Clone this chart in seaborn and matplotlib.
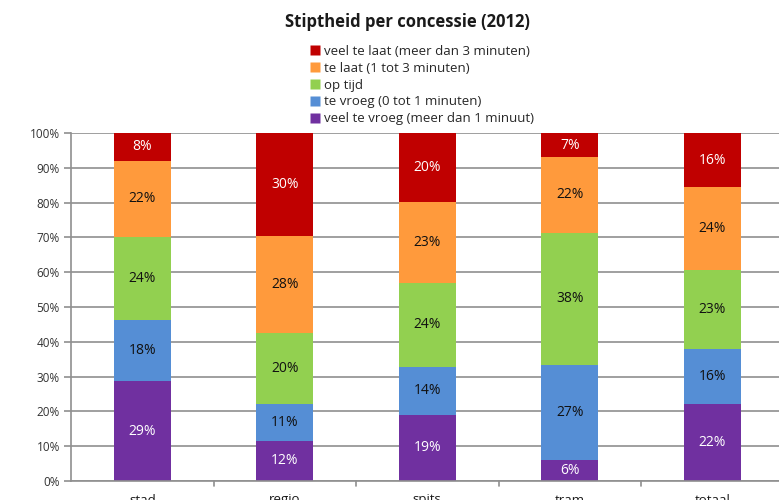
import matplotlib
matplotlib.use("Agg")
import matplotlib.pyplot as plt
from matplotlib.lines import Line2D
import numpy as np
import seaborn as sns

categories = ["stad", "regio", "spits", "tram", "totaal"]
series_names = [
    "veel te vroeg (meer dan 1 minuut)",
    "te vroeg (0 tot 1 minuten)",
    "op tijd",
    "te laat (1 tot 3 minuten)",
    "veel te laat (meer dan 3 minuten)",
]
veel_te_vroeg = [28.7, 11.6, 19.0, 6.0, 22.1]
te_vroeg = [17.6, 10.6, 13.8, 27.3, 15.8]
op_tijd = [23.8, 20.4, 24.1, 38.0, 22.7]
te_laat = [21.9, 27.8, 23.3, 21.8, 23.8]
veel_te_laat = [8.0, 29.6, 19.8, 6.9, 15.6]
yticks = [0, 10, 20, 30, 40, 50, 60, 70, 80, 90, 100]

series = [veel_te_vroeg, te_vroeg, op_tijd, te_laat, veel_te_laat]
colors = ["#7030A0", "#558ED5", "#92D050", "#FF9A3C", "#C00000"]
text_colors = ["white", "#111111", "#111111", "#111111", "white"]

sns.set_theme(style="white")
plt.rcParams["font.family"] = ["Open Sans", "DejaVu Sans"]

fig = plt.figure(figsize=(7.79, 5.0), dpi=100)
ax = fig.add_axes([71 / 779, 1 - 481 / 500, 1 - 71 / 779, (481 - 133) / 500])

grid_c = "#8f8f8f"
for y in yticks:
    ax.axhline(y, color=grid_c, lw=1.2, zorder=0)

bottom = np.zeros(len(categories))
for vals, col, tc in zip(series, colors, text_colors):
    vals = np.array(vals)
    sns.barplot(x=categories, y=vals, bottom=bottom, color=col, width=0.4,
                ax=ax, saturation=1, zorder=2, edgecolor="none")
    for i, v in enumerate(vals):
        ax.text(i, bottom[i] + v / 2, f"{v:.0f}%", ha="center", va="center",
                color=tc, fontsize=10, zorder=3)
    bottom = bottom + vals

ax.set_xlim(-0.5, -0.5 + 708 / 142.5)
ax.set_ylim(0, 100)
ax.set_yticks(yticks)
ax.set_yticklabels([f"{y}%" for y in yticks], fontsize=8.5, color="#333333")
ax.tick_params(axis="y", length=5, width=1.2, color=grid_c, pad=3, left=True)

ax.set_xticks(np.arange(len(categories)))
ax.set_xticklabels(categories, fontsize=9.5, color="#1a1a1a")
ax.tick_params(axis="x", length=0, pad=9)
for xb in np.arange(0.5, len(categories) - 0.5, 1.0):
    ax.plot([xb, xb], [0, -1.4], color=grid_c, lw=1.2, clip_on=False, zorder=1)

for s in ["top", "right"]:
    ax.spines[s].set_visible(False)
ax.spines["left"].set_color(grid_c)
ax.spines["left"].set_linewidth(1.2)
ax.spines["bottom"].set_color(grid_c)
ax.spines["bottom"].set_linewidth(1.2)
ax.set_xlabel("")
ax.set_ylabel("")

fig.text(407 / 779, 1 - 22 / 500, "Stiptheid per concessie (2012)", ha="center",
         va="center", fontsize=12, fontweight="bold", color="#1a1a1a")

handles = [Line2D([0], [0], marker="s", linestyle="none", markersize=7,
                  markerfacecolor=c, markeredgecolor="none") for c in colors[::-1]]
leg = fig.legend(handles, series_names[::-1], loc="upper left",
                 bbox_to_anchor=(303 / 779, 1 - 38 / 500), frameon=False,
                 fontsize=9.5, handlelength=0.8, handletextpad=0.3,
                 labelspacing=0.3, borderpad=0)

fig.savefig("out.png", dpi=100)
